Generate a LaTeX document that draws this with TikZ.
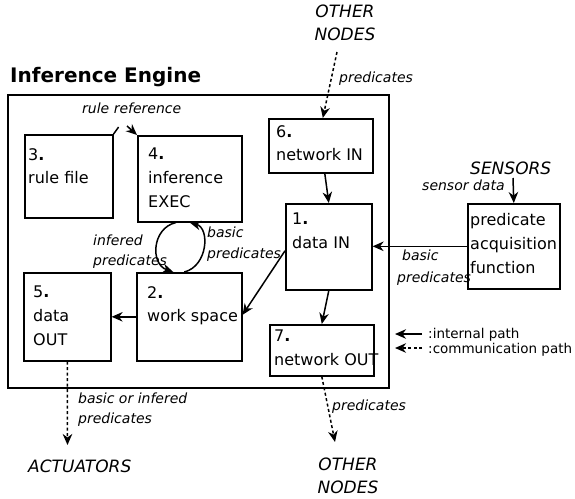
\documentclass[tikz,border=0pt]{standalone}
\usepackage{fontspec}
\setmainfont{DejaVu Sans}
\usetikzlibrary{arrows.meta,calc}
\begin{document}
\begin{tikzpicture}[x=1pt,y=-1pt,
  box/.style={draw, line width=1.6pt, inner sep=0pt, anchor=north west},
  txt/.style={inner sep=0pt, anchor=north west, align=left, font=\fontsize{16}{23.7}\selectfont},
  lbl/.style={inner sep=0pt, anchor=base west, font=\fontsize{14}{20}\selectfont\itshape},
  capl/.style={inner sep=0pt, font=\fontsize{17}{23}\selectfont\itshape, align=center},
  leg/.style={inner sep=0pt, anchor=base west, font=\fontsize{13.5}{16}\selectfont},
  arr/.style={line width=1.5pt, -{Stealth[length=11pt,width=9.5pt,inset=3.5pt]}},
  comm/.style={arr, dash pattern=on 3pt off 2.5pt},
]
\useasboundingbox (0,0) rectangle (575,498);

% title and frame
\node[inner sep=0pt, anchor=base west, font=\fontsize{20}{24}\selectfont\bfseries] (title) at (10,82) {Inference Engine};
\node[box, minimum width=381pt, minimum height=293pt] (eng) at (7,94) {};

% boxes
\node[box, minimum width=88pt, minimum height=83pt] (b3) at (24,134) {};
\node[box, minimum width=104pt, minimum height=86pt] (b4) at (137,135) {};
\node[box, minimum width=104pt, minimum height=54pt] (b6) at (268,118) {};
\node[box, minimum width=86pt, minimum height=86pt] (b1) at (285,203) {};
\node[box, minimum width=105pt, minimum height=88pt] (b2) at (136,272) {};
\node[box, minimum width=87pt, minimum height=88pt] (b5) at (23,272) {};
\node[box, minimum width=104pt, minimum height=51pt] (b7) at (269,324) {};
\node[box, minimum width=92pt, minimum height=85pt] (bp) at (467,203) {};

% box texts
\node[txt] (t3) at (28,148) {3{\bfseries .}\\rule file};
\node[txt] (t4) at (148,148) {4{\bfseries .}\\inference\\EXEC};
\node[txt] (t6) at (276,125) {6{\bfseries .}\\network IN};
\node[txt] (t1) at (292,213) {1{\bfseries .}\\data IN};
\node[txt] (t2) at (147,286) {2{\bfseries .}\\work space};
\node[txt] (t5) at (33,286) {5{\bfseries .}\\data\\OUT};
\node[txt] (t7) at (274,330) {7{\bfseries .}\\network OUT};
\node[txt] (tp) at (470,213.5) {predicate\\acquisition\\function};

% outside labels
\node[capl, anchor=north] (othertop) at (345,4.6) {OTHER\\NODES};
\node[capl, anchor=north] (otherbot) at (348,457.6) {OTHER\\NODES};
\node[capl, anchor=base west] (act) at (28,472) {ACTUATORS};
\node[capl, anchor=base west] (sens) at (470,174) {SENSORS};

% connector labels
\node[lbl] (lrule) at (82,113) {rule reference};
\node[lbl] (lpredtop) at (339,82) {predicates};
\node[lbl] (lsens) at (422,190) {sensor data};
\node[lbl] (lbas1) at (402,260) {basic};
\node[lbl] (lbas2) at (397,282) {predicates};
\node[lbl] (linf1) at (93,245) {infered};
\node[lbl] (linf2) at (93,265) {predicates};
\node[lbl] (lbl1) at (207,237) {basic};
\node[lbl] (lbl2) at (207,258) {predicates};
\node[lbl] (lact1) at (78,403) {basic or infered};
\node[lbl] (lact2) at (78,423) {predicates};
\node[lbl] (lpredbot) at (332,410) {predicates};

% free ends
\coordinate (ontop) at (337,52);
\coordinate (onbot) at (335,442);
\coordinate (actin) at (67.5,445);
\coordinate (sensout) at (513,178);

% connectors
\draw[comm] (ontop) -- ($(b6.north)+(2,0)$);
\draw[arr] ($(b6.south)+(4,0)$) -- (b1.north);
\draw[arr] (sensout) -- (bp.north);
\draw[arr] (bp.west) -- (bp.west -| b1.east);
\draw[arr] ($(b1.west)+(0,4)$) -- ($(b2.east)+(0,-2)$);
\draw[arr] (b1.south) -- (b7.north);
\draw[arr] (b2.west) -- (b5.east);
\draw[comm] (b5.south) -- (actin);
\draw[comm] (b7.south) -- (onbot);

% inference loop
\draw[arr] ($(b4.south)+(-14,0)$) .. controls (152,228) and (150,264) .. ($(b2.north)+(-16,0)$);
\draw[arr] ($(b2.north)+(-5,0)$) .. controls (208,266) and (210,228) .. ($(b4.south)+(0,0)$);

% rule reference
\draw[line width=1.5pt] (b3.north east) -- ++(5,-7);
\draw[arr] ($(b4.north west)+(-10,-9)$) -- (b4.north west);

% legend
\coordinate (lg1a) at (422,334);
\coordinate (lg1b) at (395,334);
\coordinate (lg2a) at (422,348);
\coordinate (lg2b) at (395,348);
\draw[arr] (lg1a) -- (lg1b);
\draw[comm] (lg2a) -- (lg2b);
\node[leg] (leg1) at (428,338) {:internal path};
\node[leg] (leg2) at (428,353) {:communication path};
\end{tikzpicture}
\end{document}
